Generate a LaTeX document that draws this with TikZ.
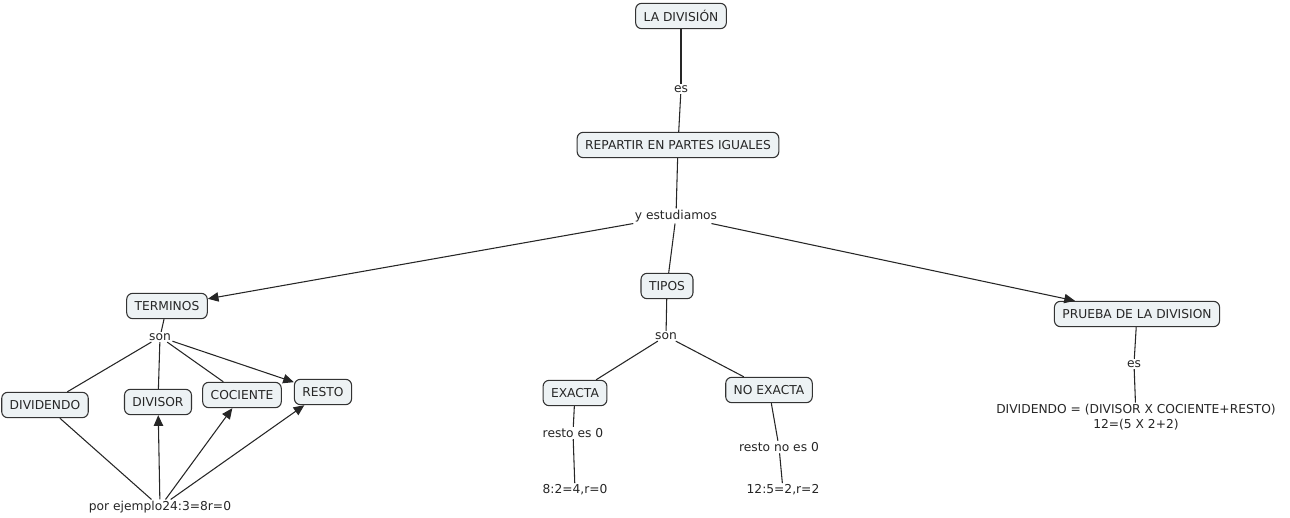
\documentclass[tikz,border=0pt]{standalone}
\usepackage{fontspec}
\setmainfont{DejaVu Sans}
\usetikzlibrary{arrows.meta}
\begin{document}
\begin{tikzpicture}[x=0.75pt,y=-0.75pt,
  every node/.style={font=\fontsize{9.2pt}{11pt}\selectfont, text=black!85},
  concept/.style={draw=black!80, line width=0.8pt, rounded corners=4.5pt, fill=boxfill, inner xsep=6pt, inner ysep=0pt, minimum height=19pt},
  lbl/.style={inner sep=1pt, fill=white},
  plain/.style={inner sep=1pt},
  link/.style={draw=black!85, line width=0.8pt},
  arr/.style={link, -{Triangle[length=8pt,width=7pt]}}]
\definecolor{boxfill}{HTML}{EDF2F4}
\useasboundingbox (0,0) rectangle (1290,518);
% concepts
\node[concept] (div) at (681,16) {LA DIVISIÓN};
\node[concept] (rep) at (678,145) {REPARTIR EN PARTES IGUALES};
\node[concept] (ter) at (167,306) {TERMINOS};
\node[concept] (tip) at (667,286) {TIPOS};
\node[concept] (pru) at (1137,314) {PRUEBA DE LA DIVISION};
\node[concept] (dvd) at (45,405) {DIVIDENDO};
\node[concept] (dvs) at (158,402) {DIVISOR};
\node[concept] (coc) at (242,395) {COCIENTE};
\node[concept] (res) at (323,392) {RESTO};
\node[concept] (exa) at (575,393) {EXACTA};
\node[concept] (noe) at (769,390) {NO EXACTA};
% labels and plain texts
\node[lbl] (es1) at (681,89) {es};
\node[lbl] (yes) at (676,216) {y estudiamos};
\node[lbl] (son1) at (160,337) {son};
\node[lbl] (son2) at (666,336) {son};
\node[lbl] (re0) at (573,433) {resto es 0};
\node[lbl] (rn0) at (779,447) {resto no es 0};
\node[lbl] (es2) at (1134,364) {es};
\node[plain] (ej) at (160,507) {por ejemplo24:3=8r=0};
\node[plain] (ex1) at (575,490) {8:2=4,r=0};
\node[plain] (ex2) at (783,490) {12:5=2,r=2};
\node[plain, align=center] (form) at (1136,417) {DIVIDENDO = (DIVISOR X COCIENTE+RESTO)\\12=(5 X 2+2)};
% connectors
\draw[link] (div) -- (es1);
\draw[link] (es1) -- (rep);
\draw[link] (rep) -- (yes);
\draw[arr] (yes) -- (ter);
\draw[link] (yes) -- (tip);
\draw[arr] (yes) -- (pru);
\draw[link] (ter) -- (son1);
\draw[link] (son1) -- (dvd);
\draw[link] (son1) -- (dvs);
\draw[link] (son1) -- (coc);
\draw[arr] (son1) -- (res);
\draw[link] (dvd) -- (ej);
\draw[arr] (ej) -- (dvs);
\draw[arr] (ej) -- (coc);
\draw[arr] (ej) -- (res);
\draw[link] (tip) -- (son2);
\draw[link] (son2) -- (exa);
\draw[link] (son2) -- (noe);
\draw[link] (exa) -- (re0);
\draw[link] (re0) -- (ex1);
\draw[link] (noe) -- (rn0);
\draw[link] (rn0) -- (ex2);
\draw[link] (pru) -- (es2);
\draw[link] (es2) -- (form);
\end{tikzpicture}
\end{document}
